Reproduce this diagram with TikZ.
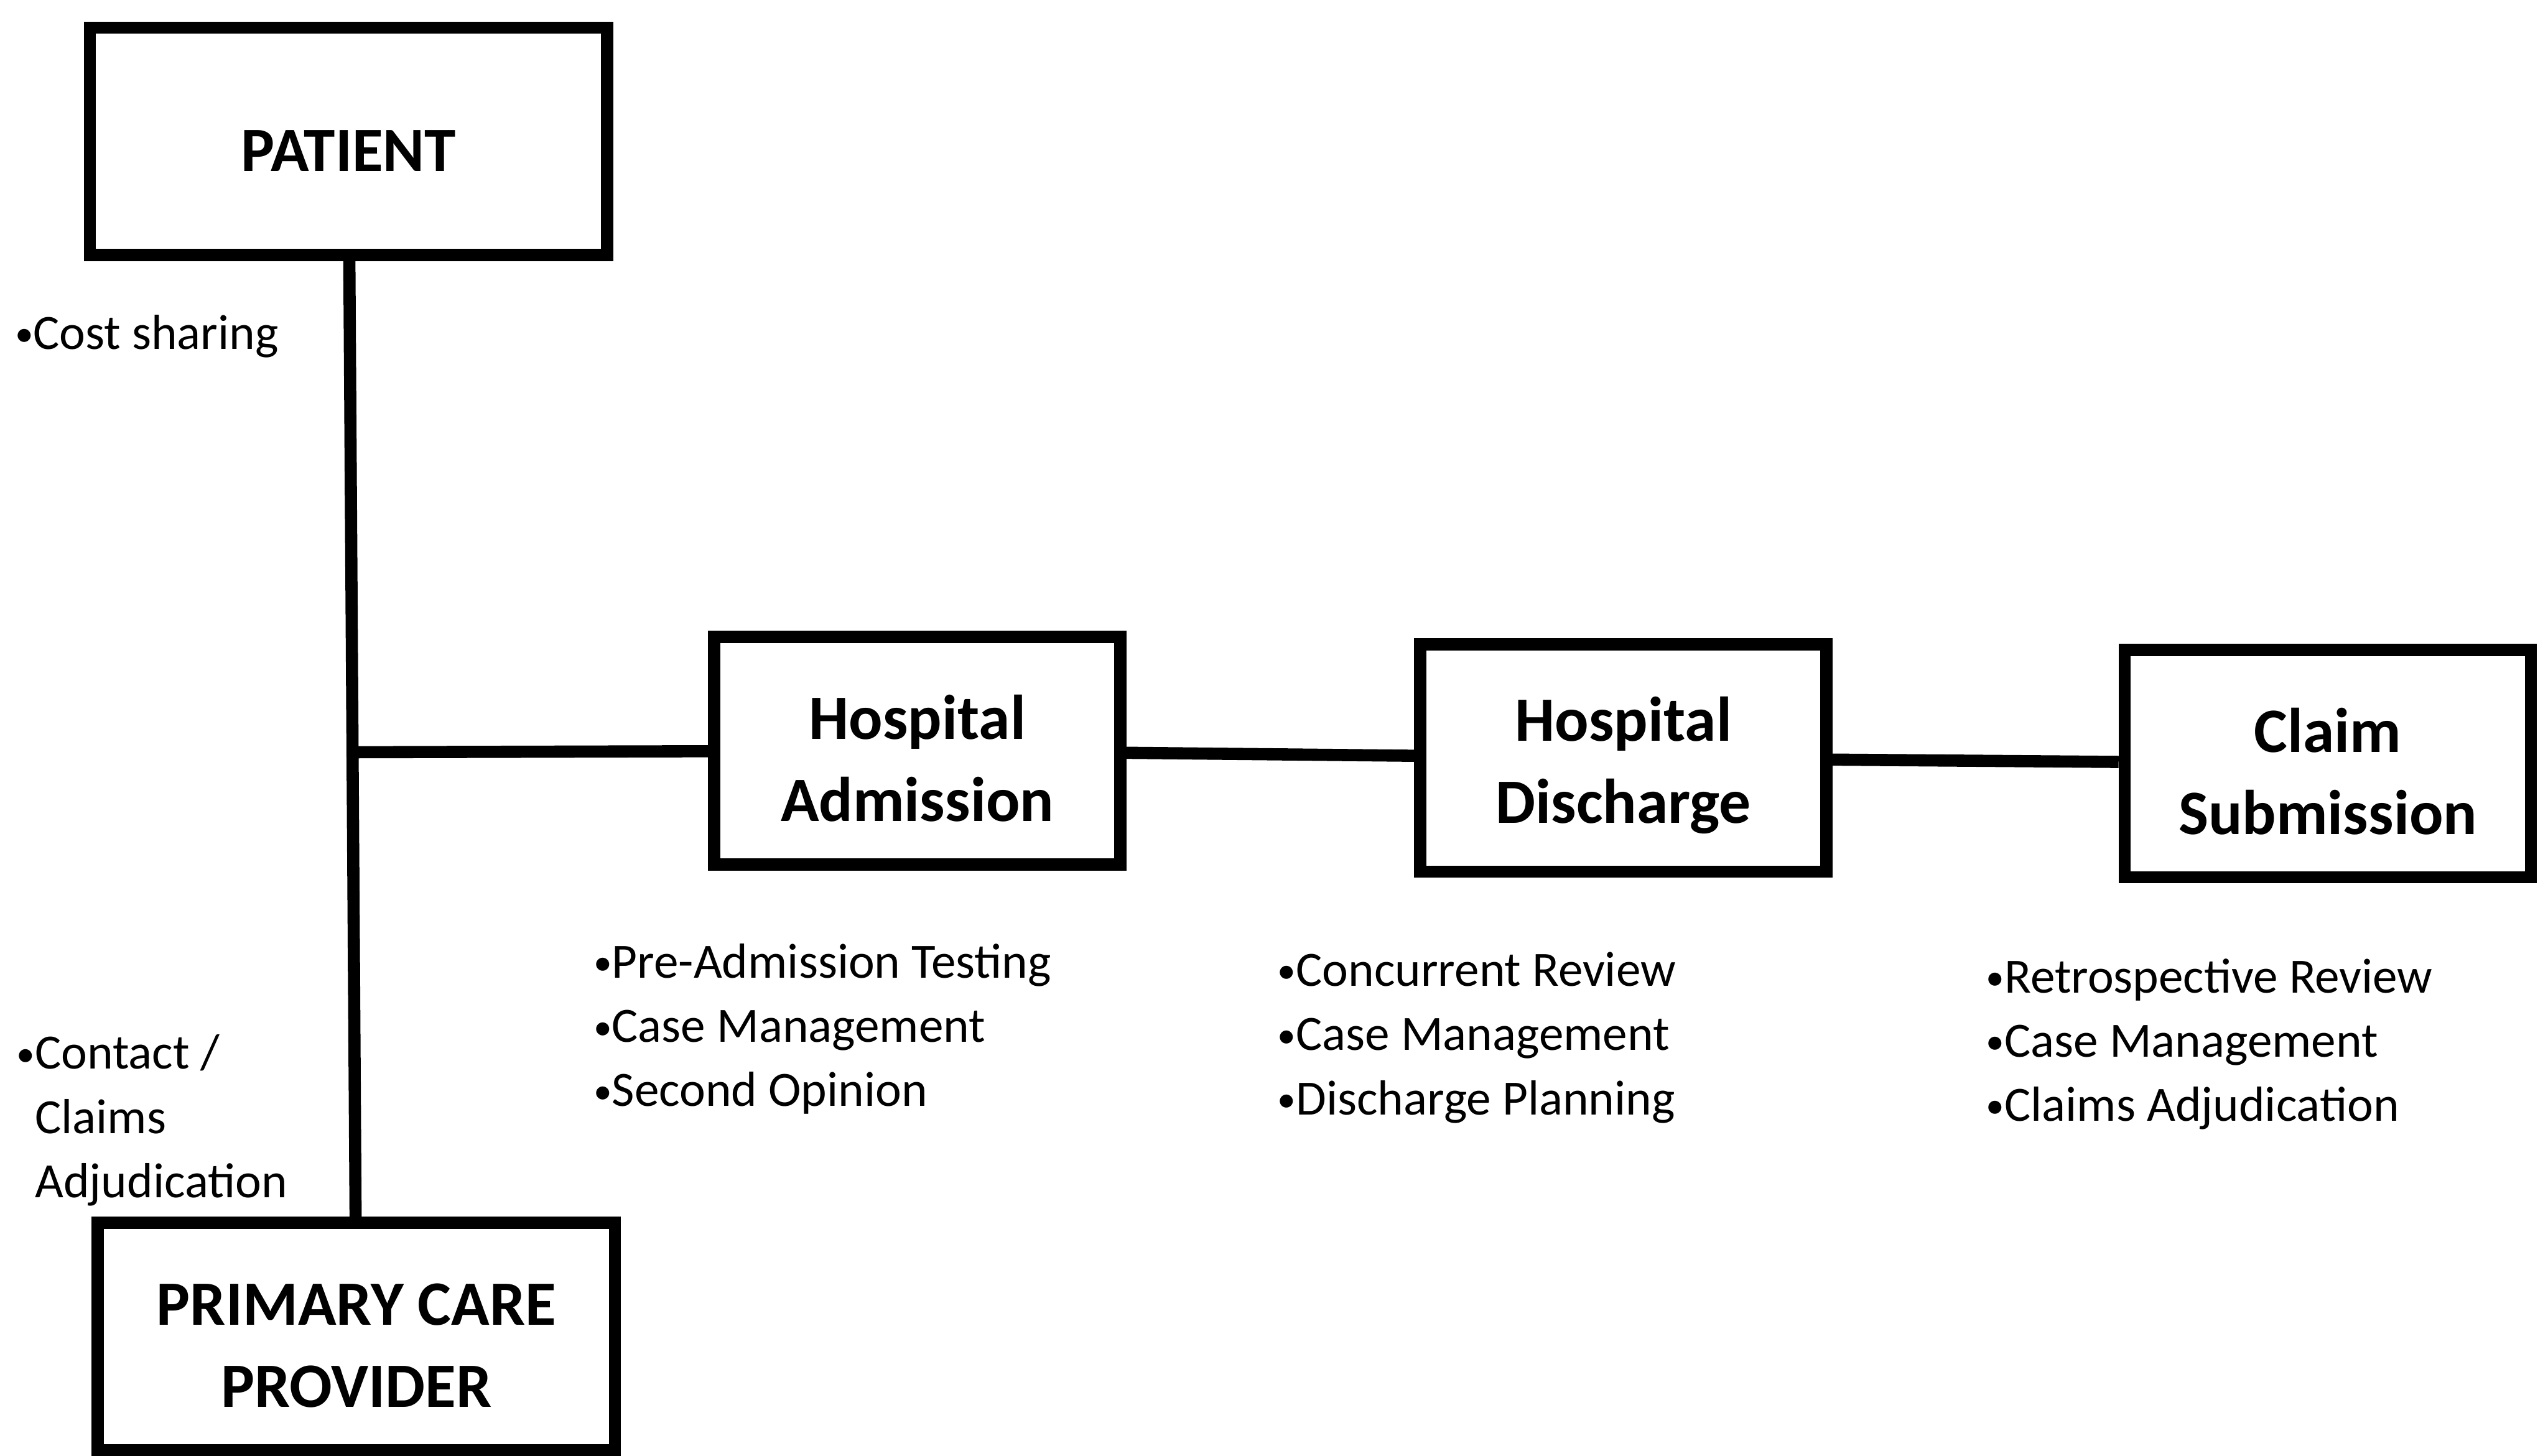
\documentclass[tikz,border=0pt]{standalone}
\usepackage{fontspec}
\setmainfont{Carlito}
\usepackage{graphicx}
\usepackage{tikz}
\usetikzlibrary{positioning}

\newcommand{\boxfont}{\fontsize{33.2pt}{43.1pt}\selectfont\bfseries}
\newcommand{\listfont}{\fontsize{25.9pt}{33.7pt}\selectfont}
\newcommand{\boxstrut}{\rule{0pt}{1.1cm}}
\newcommand{\bul}{\raisebox{0.06em}{\scalebox{0.75}{•}}}

\begin{document}
\begin{tikzpicture}[
            x=0.03cm, y=-0.03cm,
            bigbox/.style={rectangle, draw=black, line width=0.225cm, fill=white, text=black, inner sep=0pt, align=center, font=\boxfont, minimum width=9.55cm, minimum height=4.2cm},
            stepbox/.style={rectangle, draw=black, line width=0.225cm, fill=white, text=black, inner sep=0pt, align=center, font=\boxfont, minimum width=7.5cm, minimum height=4.2cm},
            notes/.style={inner sep=0pt, align=left, anchor=base west, font=\listfont, text=black},
            link/.style={line width=0.225cm, black}
        ]
        \useasboundingbox (0,0) rectangle (1568,896);

        % Left column - patient and primary care provider
        \node[bigbox] (patient) at (214.5, 87) {\boxstrut PATIENT};
        \node[bigbox] (pcp) at (219.3, 822.5) {\boxstrut PRIMARY CARE\\PROVIDER};
        \coordinate (hub) at (217, 463);

        % Right row - hospital stay and claim
        \node[stepbox] (admit) at (564.5, 462) {\boxstrut Hospital\\Admission};
        \node[stepbox] (disch) at (999, 466.5) {\boxstrut Hospital\\Discharge};
        \node[stepbox] (claim) at (1432.5, 470) {\boxstrut Claim\\Submission};

        \draw[link] (patient) -- (pcp);
        \draw[link] (hub) -- (admit);
        \draw[link] (admit) -- (disch);
        \draw[link] (disch) -- (claim);

        % Notes (base west = last line)
        \node[notes] (costnote) at (9, 215) {\bul Cost sharing};
        \node[notes] (contactnote) at (10, 737) {\bul Contact /\\\phantom{\bul}Claims\\\phantom{\bul}Adjudication};
        \node[notes] (admitnote) at (365, 681) {\bul Pre-Admission Testing\\\bul Case Management\\\bul Second Opinion};
        \node[notes] (dischnote) at (786, 686) {\bul Concurrent Review\\\bul Case Management\\\bul Discharge Planning};
        \node[notes] (claimnote) at (1222, 690) {\bul Retrospective Review\\\bul Case Management\\\bul Claims Adjudication};
        \end{tikzpicture}
\end{document}
